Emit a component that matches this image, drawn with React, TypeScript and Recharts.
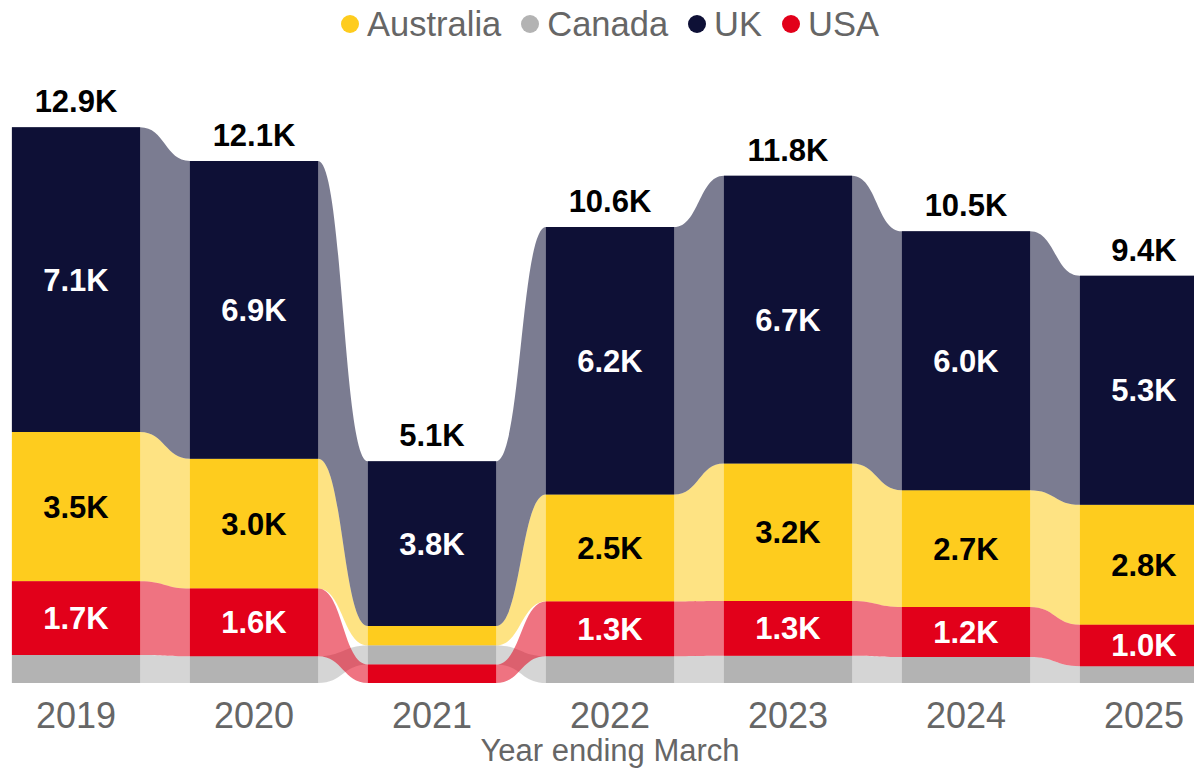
import React from 'react';
import { ComposedChart, Area, Line, XAxis, YAxis, Legend, LabelList } from 'recharts';

// ---- data (thousands) ----
const years = ['2019', '2020', '2021', '2022', '2023', '2024', '2025'];
const australia = [3.46, 3.01, 0.45, 2.48, 3.19, 2.71, 2.78];
const canada = [0.65, 0.62, 0.44, 0.62, 0.63, 0.6, 0.39];
const uk = [7.06, 6.9, 3.82, 6.2, 6.67, 6.0, 5.31];
const usa = [1.71, 1.57, 0.43, 1.27, 1.27, 1.16, 0.96];

const seriesNames = ['Australia', 'Canada', 'UK', 'USA'];
const seriesKeys = ['aus', 'can', 'uk', 'usa'];
const seriesValues = [australia, canada, uk, usa];
const solidColors = ['#FECC1E', '#B3B3B3', '#0E1036', '#E2001A'];
const labelColors = ['#000000', '#000000', '#FFFFFF', '#FFFFFF'];

const FONT = "'Liberation Sans', Arial, Helvetica, sans-serif";
const HALF = 0.36; // half bar width in category units
const LABEL_MIN = 0.8;

const fmt = (v: number) => `${v.toFixed(1)}K`;

function stackYear(i: number) {
  const order = seriesValues
    .map((_, s) => s)
    .sort((a, b) => seriesValues[a][i] - seriesValues[b][i]);
  const ranges: Record<string, [number, number]> = {};
  let base = 0;
  for (const s of order) {
    const v = seriesValues[s][i];
    ranges[seriesKeys[s]] = [base, base + v];
    base += v;
  }
  return { ranges, total: base };
}

const stacks = years.map((_, i) => stackYear(i));

const ribbonData: any[] = [];
const barData: any[] = [];
const labelData: any[] = [];
stacks.forEach((st, i) => {
  [-HALF, 0, HALF].forEach((dx) => {
    ribbonData.push({ x: i + dx, ...st.ranges });
    barData.push({ x: i + dx, ...st.ranges });
  });
  if (i < stacks.length - 1) barData.push({ x: i + 0.5 });
  const row: any = { x: i, total: st.total, totalLabel: fmt(st.total) };
  seriesKeys.forEach((k, s) => {
    const v = seriesValues[s][i];
    const show = k !== 'can' && v >= LABEL_MIN;
    row[`${k}Mid`] = show ? (st.ranges[k][0] + st.ranges[k][1]) / 2 : null;
    row[`${k}Label`] = show ? fmt(v) : null;
  });
  labelData.push(row);
});

const renderLegend = () => (
  <div
    style={{
      height: 79,
      display: 'flex',
      justifyContent: 'center',
      alignItems: 'flex-start',
      fontFamily: FONT,
      fontSize: 34.5,
      color: '#666666',
      paddingTop: 4,
      boxSizing: 'border-box',
    }}
  >
    {seriesNames.map((n, s) => (
      <span
        key={n}
        style={{ display: 'flex', alignItems: 'center', marginRight: s < seriesNames.length - 1 ? 20 : 0, lineHeight: '40px' }}
      >
        <span
          style={{
            display: 'inline-block',
            width: 18,
            height: 18,
            borderRadius: 9,
            background: solidColors[s],
            marginRight: 8,
          }}
        />
        {n}
      </span>
    ))}
  </div>
);

const renderTick = (props: any) => {
  const { x, y, payload } = props;
  return (
    <text x={x} y={y} dy={45} textAnchor="middle" fill="#666666" fontSize={36} fontFamily={FONT}>
      {years[payload.value]}
    </text>
  );
};

const renderAxisTitle = (props: any) => {
  const vb = props.viewBox;
  return (
    <text
      x={vb.x + vb.width / 2}
      y={vb.y + vb.height - 9}
      textAnchor="middle"
      fill="#666666"
      fontSize={31}
      fontFamily={FONT}
    >
      Year ending March
    </text>
  );
};

const makeTotalLabel = (props: any) => {
  const { x, y, value } = props;
  if (value == null || x == null || y == null) return null;
  return (
    <text x={x} y={y - 15} textAnchor="middle" fill="#000000" fontSize={31} fontWeight={700} fontFamily={FONT}>
      {value}
    </text>
  );
};

const makeSegLabel = (color: string) => (props: any) => {
  const { x, y, value } = props;
  if (value == null || x == null || y == null) return null;
  return (
    <text x={x} y={y + 11} textAnchor="middle" fill={color} fontSize={31} fontWeight={700} fontFamily={FONT}>
      {value}
    </text>
  );
};

const CHART_W = 1220;
const X_MIN = -76 / 178;
const X_MAX = X_MIN + CHART_W / 178;

export default function App() {
  return (
    <div
      style={{
        position: 'absolute',
        left: 0,
        top: 0,
        width: 1194,
        height: 770,
        overflow: 'hidden',
        background: '#ffffff',
        fontFamily: FONT,
      }}
    >
      <ComposedChart width={CHART_W} height={770} margin={{ top: 0, right: 0, bottom: 0, left: 0 }}>
        <XAxis
          dataKey="x"
          type="number"
          domain={[X_MIN, X_MAX]}
          allowDataOverflow
          ticks={[0, 1, 2, 3, 4, 5, 6]}
          interval={0}
          tick={renderTick}
          tickLine={false}
          axisLine={false}
          tickSize={0}
          tickMargin={0}
          height={87}
          label={{ content: renderAxisTitle }}
        />
        <YAxis hide domain={[0, 14]} type="number" />
        <Legend verticalAlign="top" align="center" height={79} content={renderLegend} />
        {seriesKeys.map((k, s) => (
          <Area
            key={`rib-${k}`}
            data={ribbonData}
            dataKey={k}
            type="bumpX"
            fill={solidColors[s]}
            fillOpacity={0.55}
            stroke="none"
            dot={false}
            activeDot={false}
            connectNulls
            isAnimationActive={false}
            legendType="none"
          />
        ))}
        {seriesKeys.map((k, s) => (
          <Area
            key={`bar-${k}`}
            data={barData}
            dataKey={k}
            type="linear"
            fill={solidColors[s]}
            fillOpacity={1}
            stroke="none"
            dot={false}
            activeDot={false}
            isAnimationActive={false}
            legendType="none"
          />
        ))}
        <Line
          data={labelData}
          dataKey="total"
          stroke="transparent"
          strokeWidth={0}
          dot={false}
          activeDot={false}
          isAnimationActive={false}
          legendType="none"
        >
          <LabelList dataKey="totalLabel" content={makeTotalLabel} />
        </Line>
        {seriesKeys.map((k, s) => (
          <Line
            key={`lab-${k}`}
            data={labelData}
            dataKey={`${k}Mid`}
            stroke="transparent"
            strokeWidth={0}
            dot={false}
            activeDot={false}
            isAnimationActive={false}
            legendType="none"
          >
            <LabelList dataKey={`${k}Label`} content={makeSegLabel(labelColors[s])} />
          </Line>
        ))}
      </ComposedChart>
    </div>
  );
}
